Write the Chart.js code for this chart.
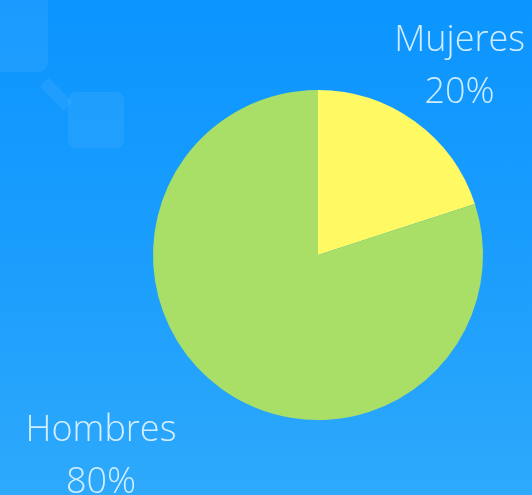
<!DOCTYPE html>
<html>
<head>
<meta charset="utf-8">
<script src="https://cdn.jsdelivr.net/npm/chart.js@4.4.1/dist/chart.umd.min.js"></script>
<style>
  html, body {
    margin: 0;
    padding: 0;
    width: 532px;
    height: 495px;
    overflow: hidden;
  }
  .panel {
    position: relative;
    width: 532px;
    height: 495px;
    background: linear-gradient(180deg, #0c95ff 0%, #1a9dfd 50%, #2ea9fb 100%);
    overflow: hidden;
  }
  .deco {
    position: absolute;
    background: rgba(255, 255, 255, 0.06);
    border-radius: 10px;
  }
  .deco.big { left: -40px; top: -40px; width: 88px; height: 112px; }
  .deco.small { left: 68px; top: 92px; width: 56px; height: 56px; border-radius: 8px; }
  .deco.link {
    left: 44px; top: 76px; width: 34px; height: 12px; border-radius: 0;
    transform: rotate(45deg);
    transform-origin: 0 50%;
  }
  canvas { position: absolute; left: 0; top: 0; }
</style>
</head>
<body>
<div class="panel">
  <div class="deco big"></div>
  <div class="deco link"></div>
  <div class="deco small"></div>
  <canvas id="genero" width="532" height="495"></canvas>
</div>
<script>
const categorias = ['Mujeres', 'Hombres'];
const porcentajes = [20, 80];
const colores = ['#fff963', '#a9df66'];

// etiquetas fuera del pastel: nombre + porcentaje
const outLabels = {
    id: 'outLabels',
    afterDatasetsDraw(chart) {
        const ctx = chart.ctx;
        const arcs = chart.getDatasetMeta(0).data;
        ctx.save();
        ctx.font = '300 36px "Open Sans"';
        ctx.fillStyle = 'rgba(228, 246, 255, 0.9)';
        ctx.textBaseline = 'alphabetic';
        ctx.textAlign = 'center';
        arcs.forEach((arc, i) => {
            const mid = (arc.startAngle + arc.endAngle) / 2;
            const r = arc.outerRadius * 1.46;
            const px = arc.x + Math.cos(mid) * r;
            const py = arc.y + Math.sin(mid) * r;
            const lines = [categorias[i], porcentajes[i] + '%'];
            const w = Math.max(...lines.map(l => ctx.measureText(l).width));
            const cx = px < arc.x ? px - w / 2 : px;
            const lineH = 52;
            const top = py - 9;
            lines.forEach((l, j) => {
                ctx.fillText(l, cx, top + j * lineH);
            });
        });
        ctx.restore();
    }
};

new Chart(document.getElementById('genero'), {
    type: 'pie',
    data: {
        labels: categorias,
        datasets: [{
            data: porcentajes,
            backgroundColor: colores,
            borderWidth: 0
        }]
    },
    options: {
        responsive: false,
        animation: false,
        layout: {
            padding: { left: 153, right: 49, top: 90, bottom: 75 }
        },
        plugins: {
            legend: { display: false },
            tooltip: { enabled: false }
        }
    },
    plugins: [outLabels]
});
</script>
</body>
</html>
